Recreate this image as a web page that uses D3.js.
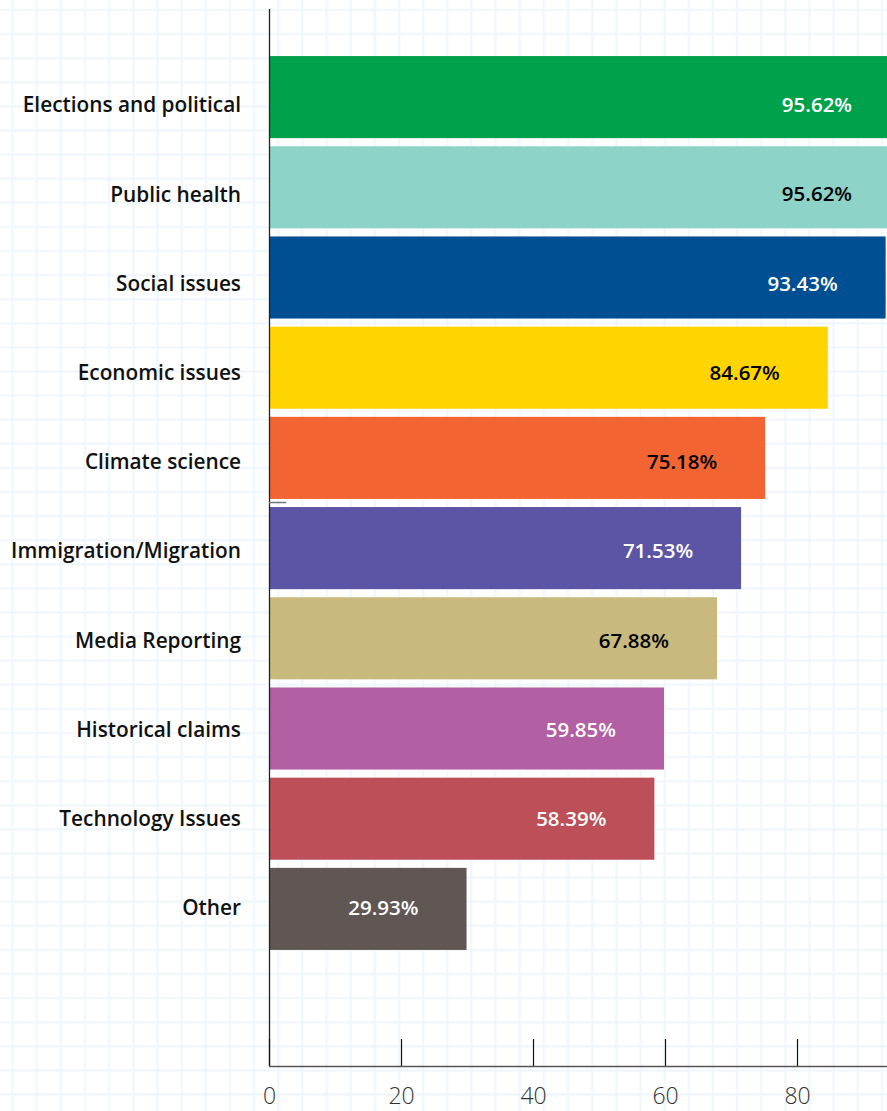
<!DOCTYPE html>
<html>
<head>
<meta charset="utf-8">
<script src="https://cdn.jsdelivr.net/npm/d3@7"></script>
<style>
html,body{margin:0;padding:0;background:#fff;}
svg{display:block;}
</style>
</head>
<body>
<script>
const categories = ["Elections and political","Public health","Social issues","Economic issues","Climate science","Immigration/Migration","Media Reporting","Historical claims","Technology Issues","Other"];
const values = [95.62,95.62,93.43,84.67,75.18,71.53,67.88,59.85,58.39,29.93];
const barColors = ["#00A14B","#8DD3C8","#004F92","#FFD500","#F26431","#5C55A5","#C8BA7E","#B25FA3","#BC4F58","#605754"];
const valueTextColors = ["#fff","#000","#fff","#000","#000","#fff","#000","#fff","#fff","#fff"];
const tickValues = [0,20,40,60,80];

const W = 887, H = 1111;
const FONT = "'Open Sans', 'Noto Sans', sans-serif";
const svg = d3.select("body").append("svg").attr("width", W).attr("height", H);

// grid background
const defs = svg.append("defs");
const pat = defs.append("pattern").attr("id","grid").attr("patternUnits","userSpaceOnUse")
  .attr("width",24.15).attr("height",24.1).attr("x",0.6).attr("y",-2);
pat.append("rect").attr("width",24.15).attr("height",24.1).attr("fill","#fff");
pat.append("rect").attr("x",11).attr("y",0).attr("width",2).attr("height",24.1).attr("fill","#EEF6FD");
pat.append("rect").attr("x",0).attr("y",11).attr("width",24.15).attr("height",2).attr("fill","#EEF6FD");
svg.append("rect").attr("width",W).attr("height",H).attr("fill","url(#grid)");

const x = d3.scaleLinear().domain([0,100]).range([269, 269+660]);
const y = d3.scaleBand().domain(categories).range([52,954]).paddingInner(0.09).paddingOuter(0.045);
const yl = d3.scaleBand().domain(categories).range([60.4,952.6]);

const clip = defs.append("clipPath").attr("id","c");
clip.append("rect").attr("x",0).attr("y",0).attr("width",W).attr("height",H);

const g = svg.append("g").attr("clip-path","url(#c)");
g.selectAll("rect.bar").data(categories).join("rect").attr("class","bar")
  .attr("x", x(0)).attr("y", d=>y(d))
  .attr("width", (d,i)=>x(values[i])-x(0)).attr("height", y.bandwidth())
  .attr("fill",(d,i)=>barColors[i]);

g.selectAll("text.val").data(categories).join("text").attr("class","val")
  .attr("x",(d,i)=>x(values[i])-48).attr("y",d=>yl(d)+yl.bandwidth()/2)
  .attr("dy","0.35em").attr("text-anchor","end")
  .attr("font-family",FONT).attr("font-weight",600).attr("font-size",20.5)
  .attr("fill",(d,i)=>valueTextColors[i])
  .text((d,i)=>values[i].toFixed(2)+"%");

// category labels
svg.selectAll("text.cat").data(categories).join("text").attr("class","cat")
  .attr("x",241).attr("y",d=>yl(d)+yl.bandwidth()/2).attr("dy","0.35em")
  .attr("text-anchor","end")
  .attr("font-family",FONT).attr("font-weight",600).attr("font-size",20.8)
  .attr("fill","#111").text(d=>d);

// y axis line
svg.append("line").attr("x1",269.5).attr("x2",269.5).attr("y1",9).attr("y2",1066)
  .attr("stroke","#222").attr("stroke-width",1.3);
// small stray tick
svg.append("line").attr("x1",269).attr("x2",286).attr("y1",502.5).attr("y2",502.5)
  .attr("stroke","#777").attr("stroke-width",1.5);

// x axis
const xAxis = d3.axisBottom(x).tickValues(tickValues).tickSize(0).tickFormat(d3.format("d"));
const ax = svg.append("g").attr("transform","translate(0,1066)").call(xAxis);
ax.select(".domain").remove();
ax.append("line").attr("x1",269).attr("x2",W).attr("y1",0.5).attr("y2",0.5).attr("stroke","#555").attr("stroke-width",1.5);
ax.selectAll(".tick").append("line").attr("y1",-27).attr("y2",0).attr("stroke","#111").attr("stroke-width",1.2);
ax.selectAll(".tick text").attr("y",38).attr("dy",0)
  .attr("font-family",FONT).attr("font-weight",300).attr("font-size",23).attr("fill","#333");
</script>
</body>
</html>
